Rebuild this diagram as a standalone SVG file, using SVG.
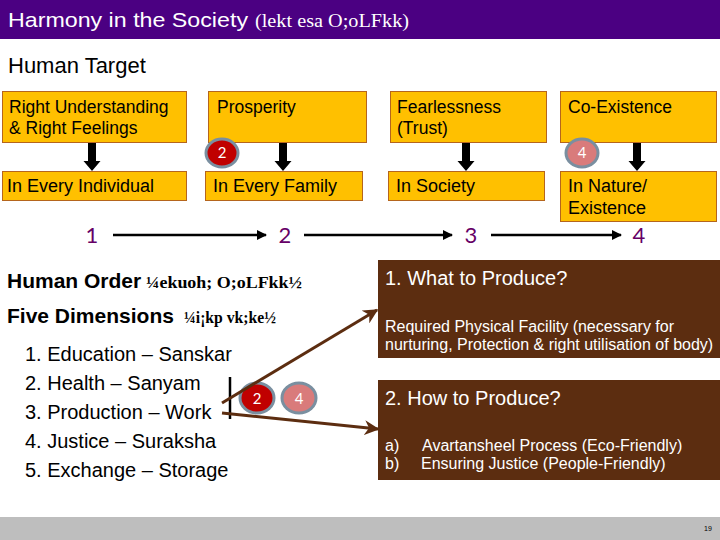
<svg xmlns="http://www.w3.org/2000/svg" width="720" height="540" viewBox="0 0 720 540">
<defs>
<style>
.sans{font-family:"Liberation Sans",Arial,sans-serif}
.serif{font-family:"Liberation Serif","Times New Roman",serif}
.obox{fill:#FFC000;stroke:#B5651D;stroke-width:1}
.otxt{font-family:"Liberation Sans",Arial,sans-serif;font-size:17.5px;fill:#000}
.otxt2{font-family:"Liberation Sans",Arial,sans-serif;font-size:18px;fill:#000}
.bbox{fill:#5C2D10}
.bhead{font-family:"Liberation Sans",Arial,sans-serif;font-size:20px;fill:#fff}
.bsmall{font-family:"Liberation Sans",Arial,sans-serif;font-size:16px;fill:#fff}
.darr{fill:#000}
.badge2{fill:#C00000;stroke:#7A8FA0;stroke-width:3}
.badge4{fill:#D97B7B;stroke:#7A8FA0;stroke-width:3}
.btn{font-family:Lato,"Noto Sans",sans-serif;font-size:15px;fill:#fff;text-anchor:middle}
.pnum{font-family:Lato,"Noto Sans",sans-serif;font-size:22px;fill:#660066;text-anchor:middle}
.list{font-family:"Liberation Sans",Arial,sans-serif;font-size:20px;fill:#000}
</style>
<marker id="ah" viewBox="0 0 10 10" refX="9" refY="5" markerWidth="4" markerHeight="4" orient="auto" markerUnits="strokeWidth">
<path d="M0,0 L10,5 L0,10 z" fill="#000"/>
</marker>
<marker id="bh" viewBox="0 0 10 10" refX="9" refY="5" markerWidth="5" markerHeight="5" orient="auto" markerUnits="strokeWidth">
<path d="M0,0 L10,5 L0,10 L3,5 z" fill="#5C2D10"/>
</marker>
</defs>
<rect width="720" height="540" fill="#fff"/>
<g id="title">
<rect x="0" y="0" width="720" height="39" fill="#4B0082"/>
<text class="sans" x="8" y="27" font-size="21" fill="#fff" textLength="240" lengthAdjust="spacingAndGlyphs">Harmony in the Society</text>
<text class="serif" x="255" y="27" font-size="18" fill="#fff" textLength="154" lengthAdjust="spacingAndGlyphs">(lekt esa O;oLFkk)</text>
</g>
<g id="human-target">
<text class="sans" x="8" y="73" font-size="22" fill="#000">Human Target</text>
</g>
<g id="box-right-understanding">
<rect class="obox" x="2.5" y="91.5" width="184" height="51"/>
<text class="otxt" x="9" y="113">Right Understanding</text>
<text class="otxt" x="9" y="134">&amp; Right Feelings</text>
</g>
<g id="box-prosperity">
<rect class="obox" x="208.5" y="91.5" width="158" height="51"/>
<text class="otxt" x="217" y="113">Prosperity</text>
</g>
<g id="box-fearlessness">
<rect class="obox" x="390.5" y="91.5" width="156" height="51"/>
<text class="otxt" x="397" y="113">Fearlessness</text>
<text class="otxt" x="397" y="134">(Trust)</text>
</g>
<g id="box-coexistence">
<rect class="obox" x="560.5" y="91.5" width="156" height="51"/>
<text class="otxt" x="568" y="113">Co-Existence</text>
</g>
<g id="box-individual">
<rect class="obox" x="2.5" y="171.5" width="184" height="29"/>
<text class="otxt2" x="7" y="192">In Every Individual</text>
</g>
<g id="box-family">
<rect class="obox" x="205.5" y="171.5" width="157" height="29"/>
<text class="otxt2" x="213" y="192">In Every Family</text>
</g>
<g id="box-society">
<rect class="obox" x="388.5" y="171.5" width="156" height="29"/>
<text class="otxt2" x="396" y="192">In Society</text>
</g>
<g id="box-nature">
<rect class="obox" x="560.5" y="171.5" width="156" height="50"/>
<text class="otxt2" x="568" y="192">In Nature/</text>
<text class="otxt2" x="568" y="214">Existence</text>
</g>
<g id="badge-top-2">
<ellipse class="badge2" cx="222" cy="153" rx="16" ry="14"/>
<text class="btn" x="222" y="158">2</text>
</g>
<g id="badge-top-4">
<ellipse class="badge4" cx="582" cy="153" rx="16" ry="14"/>
<text class="btn" x="582" y="158">4</text>
</g>
<g id="numbers">
<text class="pnum" x="92" y="243">1</text>
<text class="pnum" x="285" y="243">2</text>
<text class="pnum" x="471" y="243">3</text>
<text class="pnum" x="639" y="243">4</text>
</g>
<g id="human-order">
<text class="sans" x="7" y="288" font-size="21" font-weight="bold" fill="#000">Human Order</text>
<text class="serif" x="146" y="288" font-size="16" font-weight="bold" fill="#000" textLength="156" lengthAdjust="spacingAndGlyphs">¼ekuoh; O;oLFkk½</text>
<text class="sans" x="7" y="323" font-size="21" font-weight="bold" fill="#000">Five Dimensions</text>
<text class="serif" x="184" y="323" font-size="16" font-weight="bold" fill="#000" textLength="92" lengthAdjust="spacingAndGlyphs">¼i¡kp vk;ke½</text>
<text class="list" x="25" y="361">1. Education – Sanskar</text>
<text class="list" x="25" y="390">2. Health – Sanyam</text>
<text class="list" x="25" y="419">3. Production – Work</text>
<text class="list" x="25" y="448">4. Justice – Suraksha</text>
<text class="list" x="25" y="477">5. Exchange – Storage</text>
<line x1="230" y1="377" x2="230" y2="419" stroke="#000" stroke-width="2.5"/>
</g>
<g id="badge-mid-2">
<ellipse class="badge2" cx="257" cy="398" rx="17" ry="15"/>
<text class="btn" x="257" y="404">2</text>
</g>
<g id="badge-mid-4">
<ellipse class="badge4" cx="299" cy="398" rx="17" ry="15"/>
<text class="btn" x="299" y="404">4</text>
</g>
<g id="box-what">
<rect class="bbox" x="378" y="260" width="342" height="98"/>
<text class="bhead" x="385" y="285">1. What to Produce?</text>
<text class="bsmall" x="385" y="332">Required Physical Facility (necessary for</text>
<text class="bsmall" x="385" y="350">nurturing, Protection &amp; right utilisation of body)</text>
</g>
<g id="box-how">
<rect class="bbox" x="378" y="380" width="342" height="100"/>
<text class="bhead" x="385" y="405">2. How to Produce?</text>
<text class="bsmall" x="385" y="451">a)</text>
<text class="bsmall" x="422" y="451">Avartansheel Process (Eco-Friendly)</text>
<text class="bsmall" x="385" y="469">b)</text>
<text class="bsmall" x="421" y="469">Ensuring Justice (People-Friendly)</text>
</g>
<g id="connectors">
<path class="darr" d="M88,143 H96 V161 H100.5 L92,171 L83.5,161 H88 Z"/>
<path class="darr" d="M279,143 H287 V161 H291.5 L283,171 L274.5,161 H279 Z"/>
<path class="darr" d="M462,143 H470 V161 H474.5 L466,171 L457.5,161 H462 Z"/>
<path class="darr" d="M633,143 H641 V161 H645.5 L637,171 L628.5,161 H633 Z"/>
<line x1="113" y1="235" x2="266" y2="235" stroke="#000" stroke-width="2.5" marker-end="url(#ah)"/>
<line x1="304" y1="235" x2="452" y2="235" stroke="#000" stroke-width="2.5" marker-end="url(#ah)"/>
<line x1="491" y1="235" x2="621" y2="235" stroke="#000" stroke-width="2.5" marker-end="url(#ah)"/>
<line x1="222" y1="403" x2="377" y2="310" stroke="#5C2D10" stroke-width="3" marker-end="url(#bh)"/>
<line x1="222" y1="413" x2="378" y2="429" stroke="#5C2D10" stroke-width="3" marker-end="url(#bh)"/>
</g>
<g id="footer">
<rect x="0" y="517" width="720" height="23" fill="#BEBEBE"/>
<text class="sans" x="708" y="531" font-size="7" fill="#000" text-anchor="middle">19</text>
</g>
</svg>
